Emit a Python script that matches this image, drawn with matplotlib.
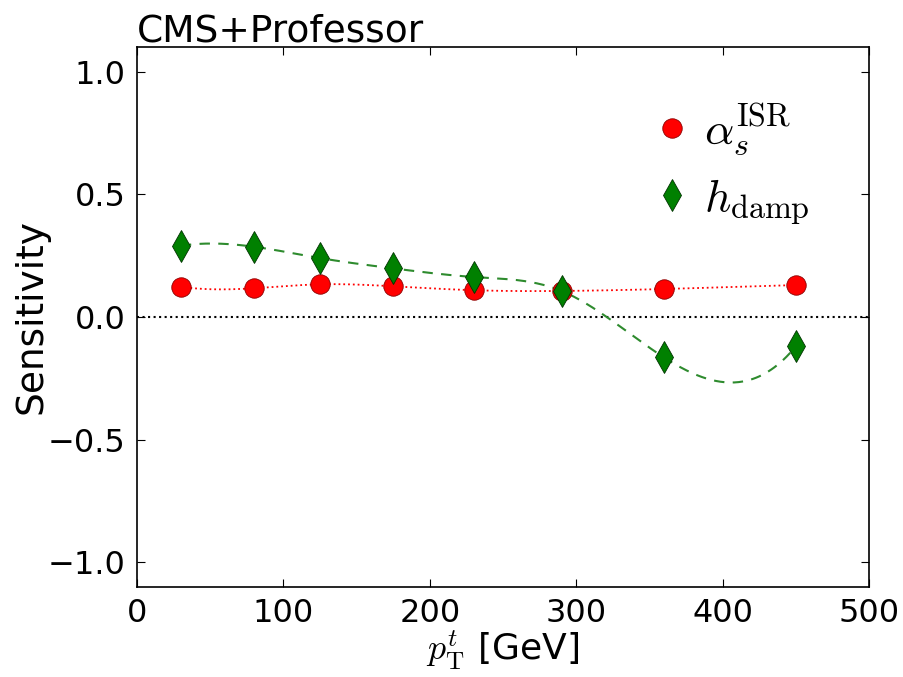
import numpy as np
import matplotlib
matplotlib.use("Agg")
import matplotlib.pyplot as plt

plt.rcParams['mathtext.fontset'] = 'cm'

# bin centres in pT(top) and sensitivities of each tune parameter
pt = [30, 80, 125, 175, 230, 290, 360, 450]
sens_alpha = [0.123, 0.117, 0.133, 0.125, 0.109, 0.106, 0.114, 0.130]
sens_hdamp = [0.290, 0.286, 0.240, 0.198, 0.163, 0.106, -0.165, -0.120]


def spline(x, y, xs):
    # cubic spline through the points, not-a-knot ends
    x = np.asarray(x, float)
    y = np.asarray(y, float)
    n = len(x)
    h = np.diff(x)
    A = np.zeros((n, n))
    b = np.zeros(n)
    A[0, 0], A[0, 1], A[0, 2] = h[1], -(h[0] + h[1]), h[0]
    A[-1, -3], A[-1, -2], A[-1, -1] = h[-1], -(h[-2] + h[-1]), h[-2]
    for i in range(1, n - 1):
        A[i, i - 1] = h[i - 1]
        A[i, i] = 2 * (h[i - 1] + h[i])
        A[i, i + 1] = h[i]
        b[i] = 6 * ((y[i + 1] - y[i]) / h[i] - (y[i] - y[i - 1]) / h[i - 1])
    M = np.linalg.solve(A, b)
    idx = np.clip(np.searchsorted(x, xs) - 1, 0, n - 2)
    x0, x1 = x[idx], x[idx + 1]
    hh = x1 - x0
    return (M[idx] * (x1 - xs) ** 3 / (6 * hh) + M[idx + 1] * (xs - x0) ** 3 / (6 * hh)
            + (y[idx] / hh - M[idx] * hh / 6) * (x1 - xs)
            + (y[idx + 1] / hh - M[idx + 1] * hh / 6) * (xs - x0))


xs = np.linspace(pt[0], pt[-1], 400)

fig = plt.figure(figsize=(9.04, 6.77), dpi=100)
ax = fig.add_axes([0.1515, 0.133, 0.8098, 0.7976])

ax.axhline(0, color='black', ls=':', lw=1.5)
ax.plot(xs, spline(pt, sens_alpha, xs), color='red', ls=':', lw=1.3)
ax.plot(xs, spline(pt, sens_hdamp, xs), color='#2e8b2e', ls=(0, (5, 4)), lw=1.5)
ax.plot(pt, sens_alpha, 'o', color='red', mec='#8b0000', mew=0.6, ms=14,
        ls='none', label=r'$\alpha_s^{\mathrm{ISR}}$')
ax.plot(pt, sens_hdamp, 'd', color='green', mec='#003300', mew=0.6, ms=16,
        ls='none', label=r'$h_{\mathrm{damp}}$')

ax.set_xlim(0, 500)
ax.set_ylim(-1.1, 1.1)
ax.set_xticks([0, 100, 200, 300, 400, 500])
ax.set_yticks([-1.0, -0.5, 0.0, 0.5, 1.0])
ax.tick_params(direction='in', top=True, right=True, length=6, labelsize=23, pad=8)
for s in ax.spines.values():
    s.set_linewidth(1.2)

ax.set_xlabel(r'$p_{\mathrm{T}}^{t}$ [GeV]', fontsize=26, labelpad=0)
ax.set_ylabel('Sensitivity', fontsize=27, labelpad=-1)
ax.set_title('CMS+Professor', loc='left', fontsize=27, pad=4)

ax.legend(loc='upper right', frameon=False, numpoints=1, fontsize=33,
          handlelength=1.2, handletextpad=0.1, labelspacing=0.4,
          bbox_to_anchor=(0.975, 0.975))

fig.savefig('out.png', dpi=100)
